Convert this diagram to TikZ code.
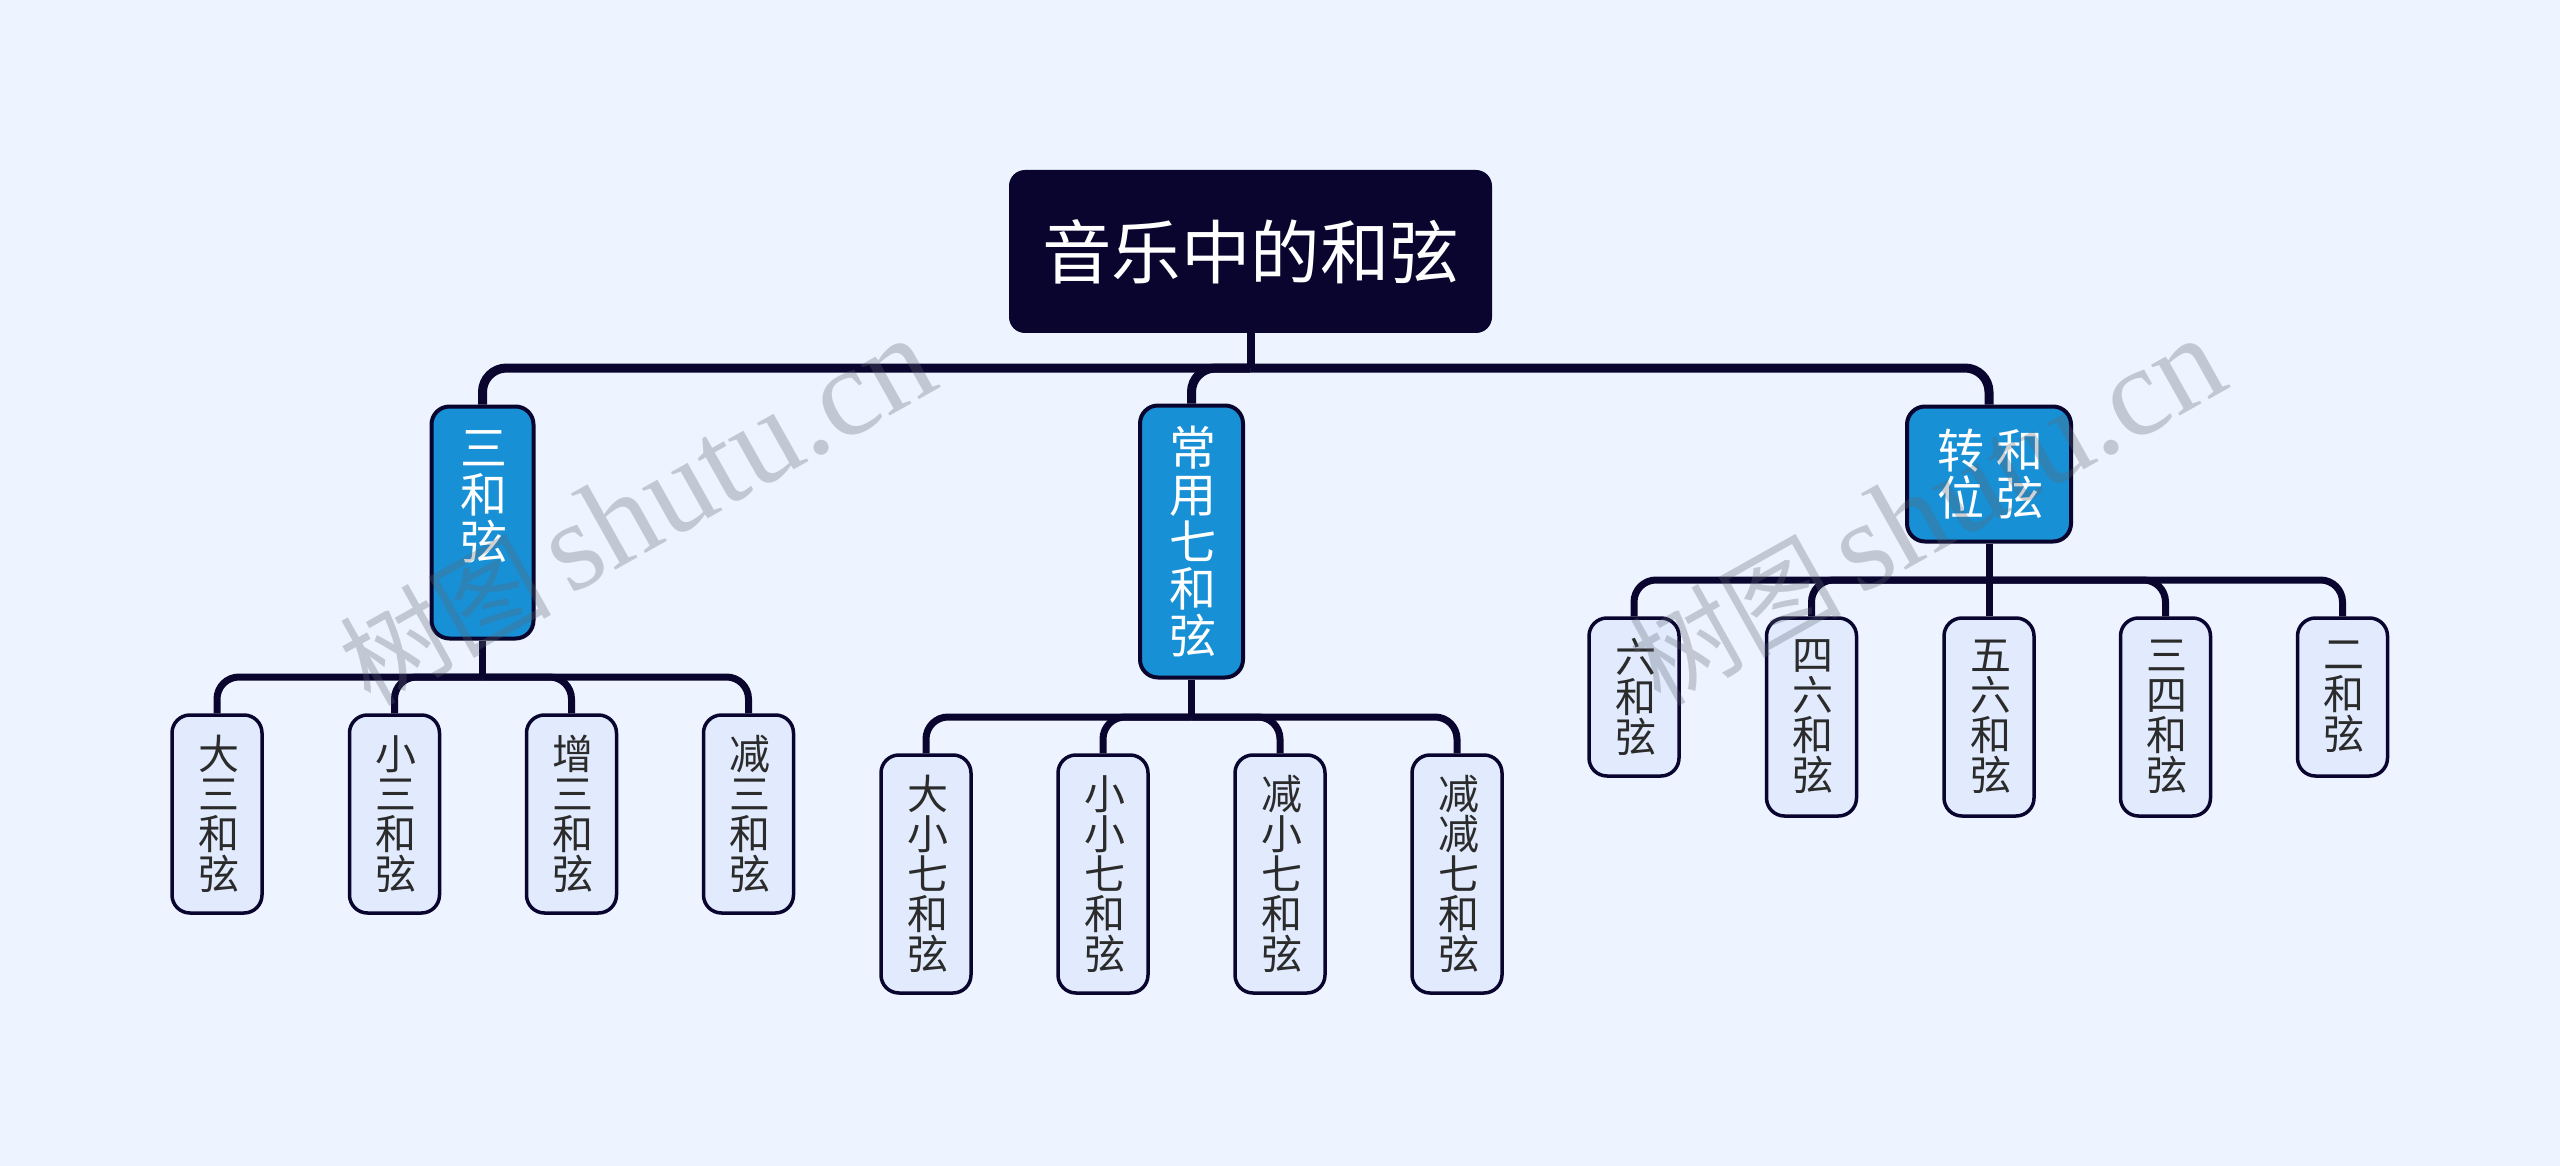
\documentclass[tikz,border=0pt]{standalone}
\usepackage{fontspec}
\setmainfont{Noto Sans CJK SC}
\newfontfamily\wmlatin{Liberation Serif}
\definecolor{pagebg}{HTML}{EDF3FF}
\definecolor{inkdark}{HTML}{0A052E}
\definecolor{bluefill}{HTML}{1890D5}
\definecolor{leaffill}{HTML}{E1EBFD}
\definecolor{leaftext}{HTML}{2B2B2B}
\definecolor{wmgray}{HTML}{5E6470}
\tikzset{
  rootbox/.style={fill=inkdark,rounded corners=16pt,inner sep=0pt,text=white,align=center,
    minimum width=483pt,minimum height=163pt,font=\fontsize{69.5}{69.5}\selectfont},
  branchbox/.style={draw=inkdark,line width=4pt,fill=bluefill,rounded corners=18pt,inner sep=0pt,text=white,align=center,
    font=\fontsize{47}{47}\selectfont},
  leafbox/.style={draw=inkdark,line width=3.5pt,fill=leaffill,rounded corners=18pt,inner sep=0pt,text=leaftext,align=center,
    minimum width=90pt,font=\fontsize{41}{40}\selectfont},
  toplink/.style={draw=inkdark,line width=9pt,rounded corners=24pt},
  sublink/.style={draw=inkdark,line width=7pt,rounded corners=22pt},
  stemlink/.style={draw=inkdark,line width=8pt},
  watermark/.style={text=wmgray,opacity=.3,rotate=29.3,inner sep=0pt}
}
\newcommand{\wmtext}{{\fontsize{106}{106}\selectfont 树图}\hspace{18pt}{\wmlatin\fontsize{127}{127}\selectfont shutu.cn}}
\newcommand{\lf}[1]{\raisebox{3pt}{\hspace{3pt}#1}}
\newcommand{\br}[1]{\raisebox{2pt}{\hspace{3pt}#1}}
\begin{document}
\begin{tikzpicture}[x=1pt,y=-1pt]
\fill[pagebg] (0,0) rectangle (2560,1166);
\useasboundingbox (0,0) rectangle (2560,1166);
% root
\node[rootbox] (root) at (1250.5,251.5) {音乐中的和弦};
% branches
\node[branchbox,minimum width=102pt,minimum height=232pt] (b1) at (482.5,522.5) {\hspace{3pt}三\\\hspace{3pt}和\\\hspace{3pt}弦\\[-2pt]\rule{0pt}{52pt}};
\node[branchbox,minimum width=103pt,minimum height=272pt] (b2) at (1191.5,541.5) {\br{常}\\\br{用}\\\br{七}\\\br{和}\\\br{弦}};
\node[branchbox,minimum width=164pt,minimum height=135pt] (b3) at (1989,474) {\raisebox{3pt}{\hspace{3pt}转\hspace{13pt}和}\\\raisebox{3pt}{\hspace{3pt}位\hspace{13pt}弦}};
% leaves of b1
\node[leafbox,minimum height=198pt] (a1) at (217,814) {\lf{大}\\\lf{三}\\\lf{和}\\\lf{弦}};
\node[leafbox,minimum height=198pt] (a2) at (394.5,814) {\lf{小}\\\lf{三}\\\lf{和}\\\lf{弦}};
\node[leafbox,minimum height=198pt] (a3) at (571.5,814) {\lf{增}\\\lf{三}\\\lf{和}\\\lf{弦}};
\node[leafbox,minimum height=198pt] (a4) at (748.5,814) {\lf{减}\\\lf{三}\\\lf{和}\\\lf{弦}};
% leaves of b2
\node[leafbox,minimum height=238pt] (c1) at (926,874) {\lf{大}\\\lf{小}\\\lf{七}\\\lf{和}\\\lf{弦}};
\node[leafbox,minimum height=238pt] (c2) at (1103,874) {\lf{小}\\\lf{小}\\\lf{七}\\\lf{和}\\\lf{弦}};
\node[leafbox,minimum height=238pt] (c3) at (1280,874) {\lf{减}\\\lf{小}\\\lf{七}\\\lf{和}\\\lf{弦}};
\node[leafbox,minimum height=238pt] (c4) at (1457,874) {\lf{减}\\\lf{减}\\\lf{七}\\\lf{和}\\\lf{弦}};
% leaves of b3
\node[leafbox,minimum height=158pt] (d1) at (1634,697) {\lf{六}\\\lf{和}\\\lf{弦}};
\node[leafbox,minimum height=198pt] (d2) at (1811.5,717) {\lf{四}\\\lf{六}\\\lf{和}\\\lf{弦}};
\node[leafbox,minimum height=198pt] (d3) at (1989,717) {\lf{五}\\\lf{六}\\\lf{和}\\\lf{弦}};
\node[leafbox,minimum height=198pt] (d4) at (2165.5,717) {\lf{三}\\\lf{四}\\\lf{和}\\\lf{弦}};
\node[leafbox,minimum height=158pt] (d5) at (2342.5,697) {\lf{二}\\\lf{和}\\\lf{弦}};
% bus levels
\coordinate (busroot) at (1250.5,368);
\coordinate (busa) at (482.5,677);
\coordinate (busc) at (1191.5,717);
\coordinate (busd) at (1989,580);
% connectors
\draw[stemlink] (root.south) -- (busroot);
\foreach \t in {b1,b2,b3} \draw[toplink] (busroot) -| (\t.north);
\draw[sublink] (b1.south) -- (busa);
\foreach \t in {a1,a2,a3,a4} \draw[sublink] (busa) -| (\t.north);
\draw[sublink] (b2.south) -- (busc);
\foreach \t in {c1,c2,c3,c4} \draw[sublink] (busc) -| (\t.north);
\draw[sublink] (b3.south) -- (d3.north);
\foreach \t in {d1,d2,d4,d5} \draw[sublink] (busd) -| (\t.north);
% watermarks
\node[watermark] (w1) at (637,512) {\wmtext};
\node[watermark] (w2) at (1927,512) {\wmtext};
\end{tikzpicture}
\end{document}
